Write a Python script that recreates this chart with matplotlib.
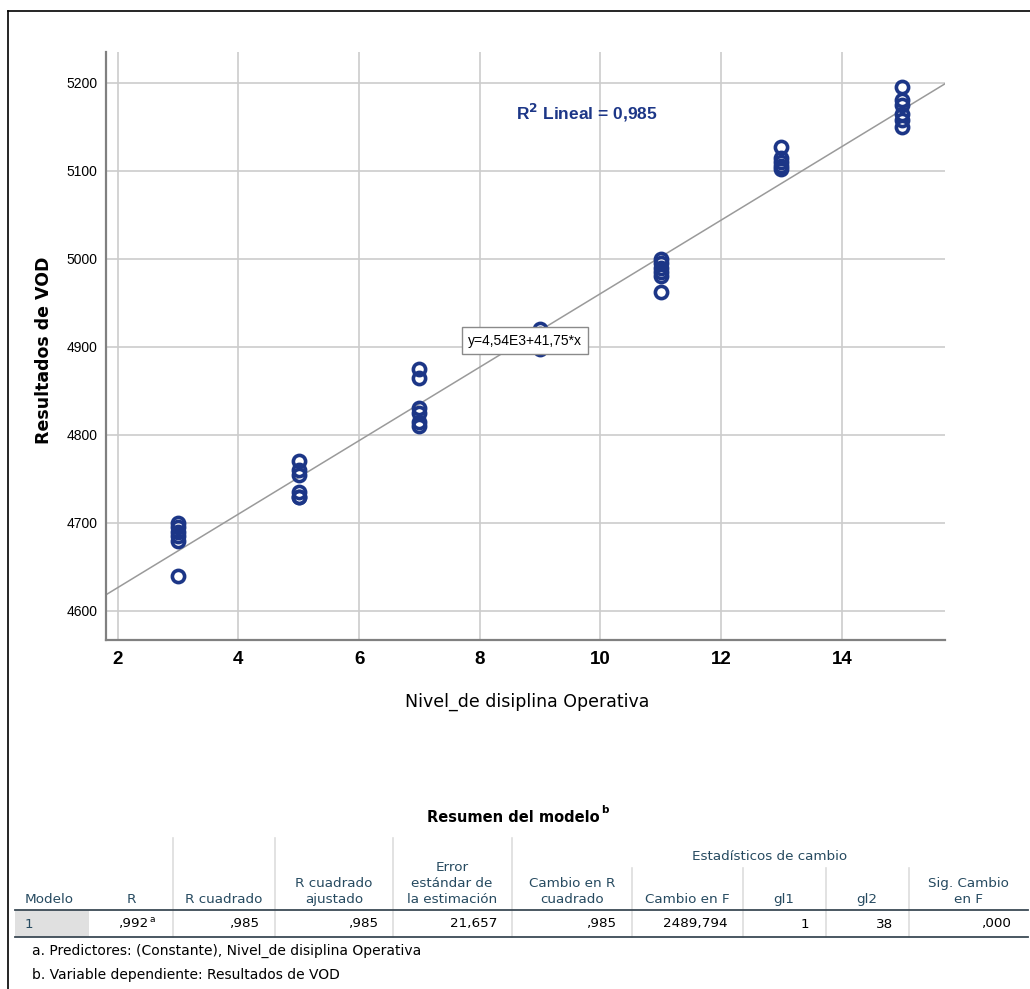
import numpy as np
import matplotlib
matplotlib.use("Agg")
import matplotlib.pyplot as plt
from matplotlib.lines import Line2D
from matplotlib.patches import Rectangle

# data (x = Nivel_de disiplina Operativa, y = Resultados de VOD)
x_vals = [3, 3, 3, 3, 3, 3,
          5, 5, 5, 5, 5, 5,
          7, 7, 7, 7, 7, 7,
          9, 9, 9, 9, 9,
          11, 11, 11, 11, 11, 11,
          13, 13, 13, 13, 13,
          15, 15, 15, 15, 15, 15]
y_vals = [4700, 4695, 4690, 4685, 4680, 4640,
          4770, 4760, 4755, 4735, 4730, 4730,
          4875, 4865, 4830, 4825, 4815, 4810,
          4920, 4915, 4910, 4905, 4898,
          5000, 4995, 4990, 4985, 4980, 4962,
          5127, 5115, 5110, 5105, 5102,
          5195, 5180, 5175, 5165, 5158, 5150]
intercept = 4543
slope = 41.75
r2_text = "0,985"
eq_text = "y=4,54E3+41,75*x"
x_ticks = [2, 4, 6, 8, 10, 12, 14]
y_ticks = [4600, 4700, 4800, 4900, 5000, 5100, 5200]

# model summary table
col_headers = ["Modelo", "R", "R cuadrado", "R cuadrado\najustado",
               "Error\nestándar de\nla estimación", "Cambio en R\ncuadrado",
               "Cambio en F", "gl1", "gl2", "Sig. Cambio\nen F"]
row_values = ["1", ",992", ",985", ",985", "21,657", ",985", "2489,794", "1", "38", ",000"]
footnotes = ["a. Predictores: (Constante), Nivel_de disiplina Operativa",
             "b. Variable dependiente: Resultados de VOD"]

W, H = 1030, 989
fig = plt.figure(figsize=(W / 100, H / 100), dpi=100)
fig.patch.set_facecolor("white")


def fx(x):
    return x / W


def fy(y):
    return 1 - y / H


def hline(x0, x1, y, **kw):
    fig.add_artist(Line2D([fx(x0), fx(x1)], [fy(y), fy(y)], **kw))


def vline(x, y0, y1, **kw):
    fig.add_artist(Line2D([fx(x), fx(x)], [fy(y0), fy(y1)], **kw))


narrow = ["Liberation Sans Narrow", "Liberation Sans", "DejaVu Sans"]
navy = "#1c3687"

ax = fig.add_axes([fx(106), fy(640), (945 - 106) / W, (640 - 52) / H])
ax.set_xlim(1.806, 15.71)
ax.set_ylim(4567, 5235)
ax.set_xticks(x_ticks)
ax.set_yticks(y_ticks)
ax.grid(True, color="#cccccc", lw=1.2)
ax.set_axisbelow(True)
for s in ["top", "right"]:
    ax.spines[s].set_visible(False)
for s in ["left", "bottom"]:
    ax.spines[s].set_color("#808080")
    ax.spines[s].set_linewidth(1.6)
ax.tick_params(length=0)
ax.tick_params(axis="y", pad=6)
ax.tick_params(axis="x", pad=8)
for lab in ax.get_yticklabels():
    lab.set_family(narrow)
    lab.set_fontsize(10)
for lab in ax.get_xticklabels():
    lab.set_family(narrow)
    lab.set_fontsize(13.5)
    lab.set_fontweight("bold")

xs = np.array(ax.get_xlim())
ax.plot(xs, intercept + slope * xs, color="#9a9a9a", lw=1.1, zorder=2)
ax.plot(x_vals, y_vals, "o", ms=8.8, mfc="none", mec=navy, mew=2.6, zorder=3)

ax.text(8.6, 5166, r"R$^{\mathbf{2}}$ Lineal = " + r2_text, color=navy,
        fontsize=12.5, fontweight="bold", family="Liberation Sans", ha="left", va="center")
ax.text(8.75, 4907, eq_text, family=narrow, fontsize=10, ha="center", va="center", zorder=5,
        bbox=dict(boxstyle="square,pad=0.45", fc="white", ec="#8a8a8a", lw=1))

fig.text(fx(44), fy(350), "Resultados de VOD", rotation=90, ha="center", va="center",
         fontsize=12.5, fontweight="bold", family="DejaVu Sans")
fig.text(fx(527), fy(702), "Nivel_de disiplina Operativa", ha="center", va="center",
         fontsize=12.5, family="DejaVu Sans")

# outer frame
hline(8, W, 11, color="black", lw=1.2)
vline(8, 11, H, color="black", lw=1.2)

# table
tc = "#264a60"
fig.text(fx(600), fy(817), "Resumen del modelo", ha="right", va="center",
         fontsize=10.5, fontweight="bold", family="DejaVu Sans")
fig.text(fx(601), fy(810), "b", ha="left", va="center", fontsize=7.5, fontweight="bold",
         family="DejaVu Sans")

fig.add_artist(Rectangle((fx(15), fy(937)), fx(89) - fx(15), fy(910) - fy(937),
                         transform=fig.transFigure, fc="#e0e0e0", ec="none"))
sep_c = "#dddddd"
for x in [173, 275, 393, 512]:
    vline(x, 838, 937, color=sep_c, lw=1.2)
for x in [632, 743, 826, 909]:
    vline(x, 868, 937, color=sep_c, lw=1.2)
hline(15, 1028, 910, color="#3c4a55", lw=1.3)
hline(15, 1028, 937, color="#3c4a55", lw=1.3)

fig.text(fx(770), fy(857), "Estadísticos de cambio", ha="center", va="center",
         fontsize=9.7, color=tc, family="DejaVu Sans")

col_centers = [25, 131, 224, 334, 452, 572, 687, 784, 867, 968]
for i, (hdr, cx) in enumerate(zip(col_headers, col_centers)):
    fig.text(fx(cx), fy(906), hdr, ha="left" if i == 0 else "center", va="bottom",
             fontsize=9.7, color=tc, family="DejaVu Sans", linespacing=1.3,
             multialignment="center")

val_right = [25, 149, 260, 379, 497, 617, 728, 809, 893, 1012]
for i, (v, rx) in enumerate(zip(row_values, val_right)):
    fig.text(fx(rx), fy(924), v, ha="left" if i == 0 else "right", va="center",
             fontsize=9.7, color=tc if i == 0 else "black", family="DejaVu Sans")
fig.text(fx(150), fy(919), "a", ha="left", va="center", fontsize=6.5, family="DejaVu Sans")

for k, note in enumerate(footnotes):
    fig.text(fx(32), fy(951 + 24 * k), note, ha="left", va="center",
             fontsize=10, family="DejaVu Sans")

fig.savefig("out.png", dpi=100)
